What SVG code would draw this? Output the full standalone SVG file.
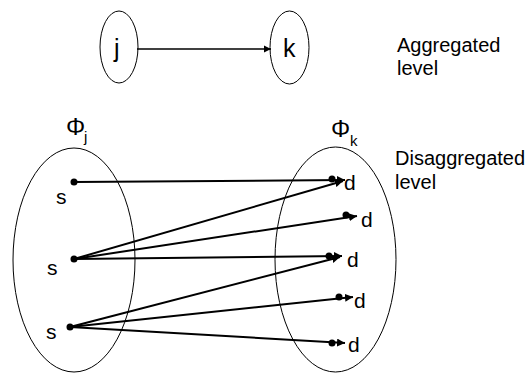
<svg xmlns="http://www.w3.org/2000/svg" width="527" height="373" viewBox="0 0 527 373">
<defs>
<style>
text{font-family:"Liberation Sans",Arial,sans-serif;fill:#000}
.t{font-size:20px}
.v{font-size:21px}
.n{font-size:25px}
.phi{font-size:24px}
.sub{font-size:15px}
.ell{fill:none;stroke:#000;stroke-width:1}
.c{stroke:#000;stroke-width:2;fill:none;marker-end:url(#ah)}
.top{stroke:#000;stroke-width:1.5;fill:none;marker-end:url(#ah2)}
.dot{fill:#000}
</style>
<marker id="ah" viewBox="0 0 10 10" refX="10" refY="5" markerWidth="4" markerHeight="4" orient="auto" markerUnits="strokeWidth">
<path d="M0,0L10,5L0,10z" fill="#000"/>
</marker>
<marker id="ah2" viewBox="0 0 10 10" refX="10" refY="5" markerWidth="5" markerHeight="5" orient="auto" markerUnits="strokeWidth">
<path d="M0,0L10,5L0,10z" fill="#000"/>
</marker>
</defs>
<g id="node-j">
<ellipse class="ell" cx="119" cy="47" rx="19" ry="36"/>
<text class="n" x="114" y="57">j</text>
</g>
<g id="node-k">
<ellipse class="ell" cx="289.5" cy="47.5" rx="19.5" ry="36.5"/>
<text class="n" x="283" y="57">k</text>
</g>
<g id="label-agg">
<text class="t" x="397" y="52">Aggregated</text>
<text class="t" x="397" y="75">level</text>
</g>
<g id="set-j">
<ellipse class="ell" cx="74" cy="260" rx="61" ry="112"/>
<text class="phi" x="66" y="135">Φ</text>
<text class="sub" x="84" y="142">j</text>
<text class="v" x="56" y="204">s</text>
<text class="v" x="47" y="275">s</text>
<text class="v" x="46" y="339">s</text>
</g>
<g id="set-k">
<ellipse class="ell" cx="335.5" cy="259.5" rx="60.5" ry="112.5"/>
<text class="phi" x="331" y="137">Φ</text>
<text class="sub" x="350" y="146">k</text>
<text class="v" x="344" y="190">d</text>
<text class="v" x="361" y="227">d</text>
<text class="v" x="347" y="267">d</text>
<text class="v" x="354" y="308">d</text>
<text class="v" x="348" y="352">d</text>
</g>
<g id="label-disagg">
<text class="t" x="395" y="165">Disaggregated</text>
<text class="t" x="395" y="189">level</text>
</g>
<g id="connectors">
<line class="top" x1="137" y1="49" x2="271" y2="49"/>
<line class="c" x1="74" y1="182" x2="345" y2="180"/>
<line class="c" x1="74" y1="259" x2="343" y2="181"/>
<line class="c" x1="74" y1="259" x2="357" y2="216"/>
<line class="c" x1="74" y1="259" x2="342" y2="256"/>
<line class="c" x1="70" y1="327" x2="340" y2="257"/>
<line class="c" x1="70" y1="327" x2="353" y2="297"/>
<line class="c" x1="70" y1="327" x2="345" y2="343"/>
<circle class="dot" cx="74" cy="182" r="3.5"/>
<circle class="dot" cx="74" cy="259" r="3.5"/>
<circle class="dot" cx="70" cy="327" r="3.5"/>
<circle class="dot" cx="332" cy="179" r="3.5"/>
<circle class="dot" cx="346" cy="215" r="3.5"/>
<circle class="dot" cx="329" cy="256" r="3.5"/>
<circle class="dot" cx="339" cy="297" r="3.5"/>
<circle class="dot" cx="332" cy="343" r="3.5"/>
</g>
</svg>
